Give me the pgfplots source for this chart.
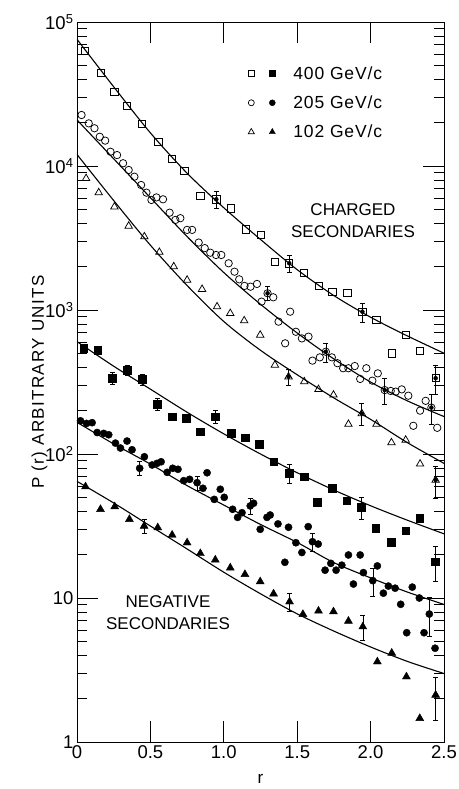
\documentclass[border=0pt]{standalone}
\usepackage{fontspec}
\setmainfont{Liberation Sans}
\setsansfont{Liberation Sans}
\newfontfamily\spacedfont[LetterSpace=8]{Liberation Sans}
\newfontfamily\legfont[LetterSpace=5]{Liberation Sans}
\usepackage{pgfplots}
\pgfplotsset{compat=1.18}

\newcommand{\lblfont}{\fontsize{17}{22}\selectfont}
\newcommand{\tickfont}{\fontsize{18.5}{22}\selectfont}

\begin{document}
\begin{tikzpicture}
\begin{axis}[
  scale only axis,
  width=367pt, height=720pt,
  ymode=log,
  xmin=0, xmax=2.5, ymin=1, ymax=1e5,
  axis line style={line width=0.9pt},
  xtick={0,0.5,1.0,1.5,2.0,2.5},
  xticklabels={0,0.5,1.0,1.5,2.0,2.5},
  ytick={1,10,100,1000,10000,100000},
  yticklabels={1,10,10\textsuperscript{2},10\textsuperscript{3},10\textsuperscript{4},10\textsuperscript{5}},
  tick align=inside,
  major tick length=21pt, minor tick length=10pt,
  tick style={black, line width=0.7pt},
  ticklabel style={font=\tickfont},
  xlabel={r}, ylabel={\spacedfont P (r) ARBITRARY UNITS},
  label style={font=\lblfont},
  xlabel shift=9pt, ylabel shift=-9pt,
  legend cell align=left,
  legend style={at={(rel axis cs:0.458,0.944)}, anchor=north west, draw=none, fill=none,
    font=\fontsize{17.5}{22}\legfont, row sep=11pt},
]

% legend
\addlegendimage{legend image code/.code={
  \draw[black, mark=square, mark size=3pt, mark options={line width=0.7pt}] plot coordinates {(0pt,0pt)};
  \draw[black, mark=square*, mark size=3pt] plot coordinates {(21pt,0pt)};}}
\addlegendentry{\hspace*{16pt}400 GeV/c}
\addlegendimage{legend image code/.code={
  \draw[black, mark=o, mark size=3pt, mark options={line width=0.7pt}] plot coordinates {(0pt,0pt)};
  \draw[black, mark=*, mark size=3pt] plot coordinates {(21pt,0pt)};}}
\addlegendentry{\hspace*{16pt}205 GeV/c}
\addlegendimage{legend image code/.code={
  \draw[black, mark=triangle, mark size=3.5pt, mark options={line width=0.7pt}] plot coordinates {(0pt,0pt)};
  \draw[black, mark=triangle*, mark size=3.5pt] plot coordinates {(21pt,0pt)};}}
\addlegendentry{\hspace*{16pt}102 GeV/c}

% fitted curves
\pgfplotsset{fitline/.style={black, line width=1.1pt, smooth, mark=none, forget plot}}
\addplot[fitline] coordinates {(0,75860) (0.25,35480) (0.5,16980) (0.75,8913) (1.0,5129) (1.25,3090) (1.5,1905) (1.75,1259) (2.0,891) (2.25,661) (2.5,501)};
\addplot[fitline] coordinates {(0,20890) (0.25,11220) (0.5,6026) (0.75,3236) (1.0,1820) (1.25,1096) (1.5,692) (1.75,457) (2.0,316) (2.25,234) (2.5,182)};
\addplot[fitline] coordinates {(0,12020) (0.25,5754) (0.5,2818) (0.75,1479) (1.0,832) (1.25,525) (1.5,355) (1.75,245) (2.0,174) (2.25,120) (2.5,86.1)};
\addplot[fitline] coordinates {(0,603) (0.25,407) (0.5,282) (0.75,195) (1.0,138) (1.25,100) (1.5,74.1) (1.75,56.2) (2.0,43.7) (2.25,34.7) (2.5,27.9)};
\addplot[fitline] coordinates {(0,166) (0.25,117.5) (0.5,85.1) (0.75,60.3) (1.0,44.2) (1.25,32.4) (1.5,24.3) (1.75,17.6) (2.0,13.8) (2.25,11.0) (2.5,9.02)};
\addplot[fitline] coordinates {(0,64.6) (0.25,45.7) (0.5,31.6) (0.75,21.9) (1.0,15.1) (1.25,10.7) (1.5,7.76) (1.75,5.89) (2.0,4.57) (2.25,3.63) (2.5,2.99)};

% error bars
\pgfplotsset{ebar/.style={only marks, mark=none, forget plot,
  error bars/.cd, y dir=both, y explicit relative,
  error mark options={rotate=90, mark size=2.5pt, line width=0.6pt, black},
  error bar style={line width=0.6pt, black}}}
\addplot[ebar] coordinates {(0.949,5870) +- (0,0.13) (1.446,2110) +- (0,0.13) (1.944,973) +- (0,0.15) (2.443,336) +- (0,0.23)};
\addplot[ebar] coordinates {(1.298,1306) +- (0,0.11) (1.695,513) +- (0,0.15) (2.096,278) +- (0,0.2) (2.414,210) +- (0,0.23)};
\addplot[ebar] coordinates {(1.441,344) +- (0,0.13) (1.940,191) +- (0,0.17) (2.443,65.9) +- (0,0.25)};
\addplot[ebar] coordinates {(0.239,336) +- (0,0.1) (0.341,383) +- (0,0.08) (0.443,330) +- (0,0.09) (0.545,222) +- (0,0.1) (0.942,182) +- (0,0.1) (1.446,73.5) +- (0,0.15) (1.938,42.7) +- (0,0.17) (2.439,17.9) +- (0,0.27)};
\addplot[ebar] coordinates {(0.427,79.6) +- (0,0.11) (0.818,63.2) +- (0,0.11) (1.180,43.6) +- (0,0.13) (1.604,24.6) +- (0,0.14) (2.015,13.2) +- (0,0.22) (2.400,7.74) +- (0,0.3)};
\addplot[ebar] coordinates {(0.457,31.6) +- (0,0.11) (1.448,9.42) +- (0,0.14) (1.947,6.32) +- (0,0.2) (2.443,2.12) +- (0,0.33)};

% charged secondaries (open symbols)
\pgfplotsset{openm/.style={only marks, forget plot, black, mark options={line width=0.75pt, fill=white}}}
\addplot[openm, mark=square, mark size=3.6pt] coordinates {
(0.056,63100) (0.165,44460) (0.255,32810) (0.341,26120) (0.443,19590) (0.554,14760)
(0.648,11250) (0.731,9270) (0.840,6190) (0.949,5870) (1.049,5080) (1.151,3630)
(1.253,3320) (1.350,2160) (1.446,2110) (1.548,1820) (1.645,1470) (1.740,1330)
(1.842,1310) (1.944,973) (2.040,853) (2.144,500) (2.239,670) (2.337,521) (2.443,336)};
\addplot[openm, mark=o, mark size=3.7pt] coordinates {
(0.031,22600) (0.080,19770) (0.119,18280) (0.155,15960) (0.192,15000) (0.228,12560)
(0.273,11910) (0.314,10450) (0.352,9380) (0.391,8430) (0.437,7380) (0.473,6530)
(0.507,5810) (0.541,6050) (0.586,5870) (0.631,4740) (0.670,4220) (0.704,4340)
(0.750,3600) (0.784,3600) (0.829,2940) (0.870,2690) (0.908,2500) (0.947,2410)
(0.983,2410) (1.033,2110) (1.073,1845) (1.105,1633) (1.141,1470) (1.182,1452)
(1.226,1517) (1.257,1143) (1.298,1306) (1.337,1225) (1.373,830) (1.418,587)
(1.452,973) (1.491,706) (1.532,635) (1.577,653) (1.604,445) (1.654,469)
(1.695,513) (1.736,469) (1.774,427) (1.813,394) (1.849,394) (1.892,408)
(1.929,332) (1.971,394) (2.012,323) (2.049,363) (2.096,278) (2.137,274)
(2.171,271) (2.212,281) (2.257,254) (2.291,157) (2.337,200) (2.375,234)
(2.414,210) (2.454,152)};
\addplot[openm, mark=triangle, mark size=4.3pt] coordinates {
(0.062,8200) (0.148,6530) (0.255,5210) (0.352,3830) (0.459,3230) (0.561,2520)
(0.659,2000) (0.750,1615) (0.852,1393) (0.954,1054) (1.044,948) (1.139,843)
(1.248,670) (1.348,415) (1.441,344) (1.548,318) (1.645,281) (1.747,257)
(1.849,161) (1.940,191) (2.040,161) (2.142,120) (2.239,125) (2.337,85.3) (2.443,65.9)};

% negative secondaries (filled symbols)
\pgfplotsset{fillm/.style={only marks, forget plot, black, mark options={fill=black}}}
\addplot[fillm, mark=square*, mark size=3.8pt] coordinates {
(0.047,542) (0.142,527) (0.239,336) (0.341,383) (0.443,330) (0.545,222)
(0.648,182) (0.745,177) (0.840,143) (0.942,182) (1.049,139) (1.144,130)
(1.241,117) (1.339,88.5) (1.446,73.5) (1.548,69.5) (1.638,46.2) (1.740,57.8)
(1.838,47.4) (1.938,42.7) (2.035,30.5) (2.142,24.4) (2.239,29.3) (2.335,35.7) (2.439,17.9)};
\addplot[fillm, mark=*, mark size=3.6pt] coordinates {
(0.024,170) (0.065,163) (0.103,165) (0.137,141) (0.182,139) (0.216,136)
(0.262,119) (0.296,110) (0.341,123) (0.375,107) (0.427,79.6) (0.459,95.7)
(0.512,83.9) (0.545,86.1) (0.573,88.3) (0.614,74.6) (0.652,79.6) (0.688,78.3)
(0.727,65.3) (0.767,66.7) (0.818,63.2) (0.858,57.8) (0.886,74.1) (0.935,48.4)
(0.976,56.9) (1.003,50.0) (1.060,41.3) (1.094,36.3) (1.124,39.1) (1.180,43.6)
(1.203,45.5) (1.248,30.0) (1.294,36.3) (1.316,37.7) (1.369,32.7) (1.416,17.7)
(1.441,31.0) (1.491,24.2) (1.532,20.7) (1.575,31.3) (1.604,24.6) (1.643,23.7)
(1.690,15.6) (1.729,17.4) (1.765,15.6) (1.804,16.9) (1.849,19.9) (1.883,12.5)
(1.929,19.9) (1.951,15.0) (2.015,13.2) (2.046,16.7) (2.087,10.8) (2.121,12.1)
(2.167,11.7) (2.205,9.04) (2.246,5.74) (2.284,11.9) (2.332,10.0) (2.364,5.74)
(2.400,7.74) (2.439,4.48)};
\addplot[fillm, mark=triangle*, mark size=4.6pt] coordinates {
(0.058,59.3) (0.160,41.3) (0.257,43.1) (0.357,35.2) (0.457,31.6) (0.550,30.8)
(0.648,27.4) (0.750,24.2) (0.840,20.4) (0.942,18.4) (1.044,16.2) (1.144,14.6)
(1.248,13.0) (1.339,10.7) (1.448,9.42) (1.539,7.71) (1.645,8.13) (1.747,8.04)
(1.849,6.92) (1.947,6.32) (2.046,3.61) (2.144,4.15) (2.244,2.84) (2.335,1.46) (2.443,2.12)};

\node[align=center, font=\lblfont] at (axis cs:1.88,4150) {CHARGED\\SECONDARIES};
\node[align=center, font=\lblfont] at (axis cs:0.62,7.87) {NEGATIVE\\SECONDARIES};
\end{axis}
\pgfresetboundingbox
\path ([shift={(-77pt,-47pt)}]current axis.south west) rectangle ([shift={(15pt,22pt)}]current axis.north east);
\end{tikzpicture}
\end{document}
